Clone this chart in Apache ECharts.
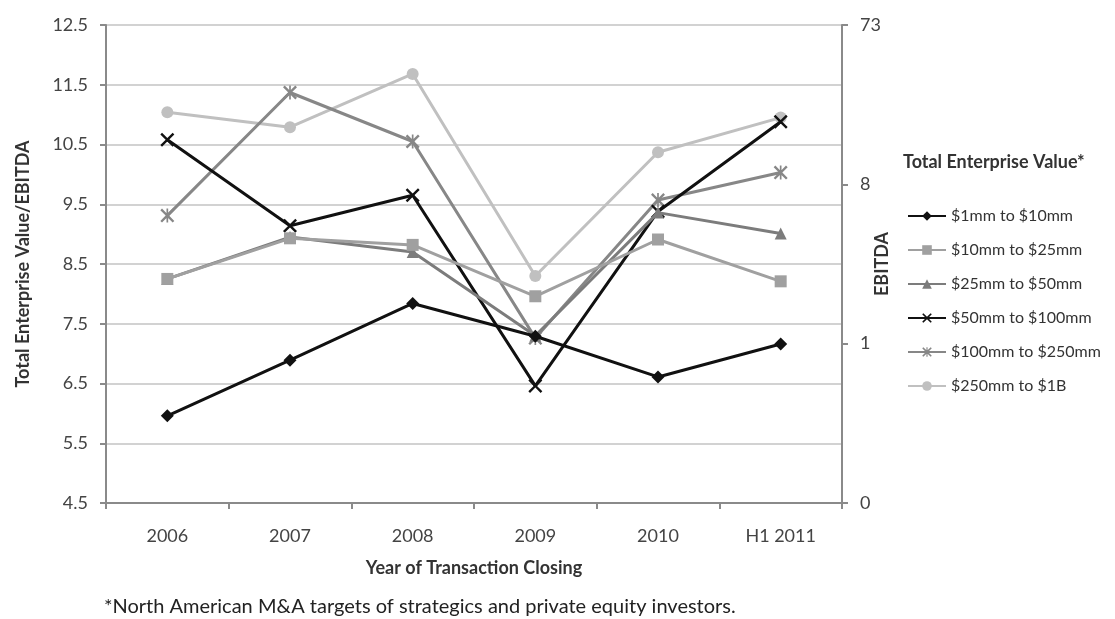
<!DOCTYPE html>
<html>
<head>
<meta charset="utf-8">
<script src="https://cdn.jsdelivr.net/npm/echarts@6/dist/echarts.min.js"></script>
<style>
  html, body { margin: 0; padding: 0; background: #fff; }
  #chart { width: 1115px; height: 619px; }
</style>
</head>
<body>
<div id="chart"></div>
<script>
// Deal-size EV/EBITDA multiples by closing year
const years = ['2006', '2007', '2008', '2009', '2010', 'H1 2011'];
const leftTicks = [4.5, 5.5, 6.5, 7.5, 8.5, 9.5, 10.5, 11.5, 12.5];
const rightTickLabels = ['0', '1', '8', '73'];

const seriesNames = [
  '$1mm to $10mm',
  '$10mm to $25mm',
  '$25mm to $50mm',
  '$50mm to $100mm',
  '$100mm to $250mm',
  '$250mm to $1B'
];
const s1to10    = [5.96, 6.89, 7.84, 7.29, 6.61, 7.16];
const s10to25   = [8.25, 8.93, 8.82, 7.96, 8.91, 8.21];
const s25to50   = [8.25, 8.95, 8.70, 7.30, 9.36, 9.01];
const s50to100  = [10.58, 9.14, 9.65, 6.46, 9.38, 10.88];
const s100to250 = [9.31, 11.37, 10.55, 7.26, 9.57, 10.03];
const s250to1b  = [11.04, 10.79, 11.68, 8.30, 10.37, 10.95];

const xMark = 'path://M0,1.2L1.2,0L5,3.8L8.8,0L10,1.2L6.2,5L10,8.8L8.8,10L5,6.2L1.2,10L0,8.8L3.8,5Z';
const starMark = 'path://M0,1.2L1.2,0L5,3.8L8.8,0L10,1.2L6.2,5L10,8.8L8.8,10L5,6.2L1.2,10L0,8.8L3.8,5Z M4.4,0L5.6,0L5.6,10L4.4,10Z';

const styles = [
  { color: '#111111', symbol: 'diamond', size: 13 },
  { color: '#a0a0a0', symbol: 'rect', size: 12 },
  { color: '#7c7c7c', symbol: 'triangle', size: 12 },
  { color: '#111111', symbol: xMark, size: 14 },
  { color: '#878787', symbol: starMark, size: 14 },
  { color: '#c0c0c0', symbol: 'circle', size: 12 }
];
const values = [s1to10, s10to25, s25to50, s50to100, s100to250, s250to1b];

const font = 'Lato, "Open Sans", sans-serif';
const axisGray = '#8a8a8a';

const chart = echarts.init(document.getElementById('chart'));
chart.setOption({
  animation: false,
  textStyle: { fontFamily: font },
  grid: { left: 106, right: 273, top: 25, bottom: 116 },
  legend: {
    orient: 'vertical',
    left: 902,
    top: 203,
    itemWidth: 38,
    itemHeight: 12,
    itemGap: 18,
    textStyle: { fontSize: 16, color: '#333', fontFamily: font },
    data: seriesNames
  },
  graphic: [
    {
      type: 'text', left: 903, top: 153,
      style: { text: 'Total Enterprise Value*', font: 'bold 18px ' + font, fill: '#333' }
    },
    {
      type: 'text', left: 104, top: 597,
      style: { text: '*North American M&A targets of strategics and private equity investors.', font: '20px ' + font, fill: '#222' }
    }
  ],
  xAxis: {
    type: 'category',
    data: years,
    name: 'Year of Transaction Closing',
    nameLocation: 'middle',
    nameGap: 56,
    nameMoveOverlap: false,
    nameTextStyle: { fontSize: 18, fontWeight: 'bold', color: '#333' },
    axisLine: { lineStyle: { color: axisGray, width: 2 } },
    axisTick: { show: true, length: 6, lineStyle: { color: axisGray, width: 2 } },
    axisLabel: { fontSize: 18, color: '#444', margin: 24 }
  },
  yAxis: [
    {
      type: 'value',
      min: leftTicks[0],
      max: leftTicks[leftTicks.length - 1],
      interval: 1,
      name: 'Total Enterprise Value/EBITDA',
      nameLocation: 'middle',
      nameRotate: 90,
      nameGap: 74,
      nameMoveOverlap: false,
      nameTextStyle: { fontSize: 18, fontWeight: 'bold', color: '#333' },
      axisLine: { show: true, lineStyle: { color: axisGray, width: 2 } },
      axisTick: { show: true, length: 6, lineStyle: { color: axisGray, width: 2 } },
      axisLabel: { fontSize: 18, color: '#444', margin: 18, formatter: v => v.toFixed(1) },
      splitLine: { lineStyle: { color: '#d2d2d2', width: 2 } }
    },
    {
      type: 'value',
      position: 'right',
      min: 0,
      max: rightTickLabels.length - 1,
      interval: 1,
      name: 'EBITDA',
      nameLocation: 'middle',
      nameRotate: 90,
      nameGap: 31,
      nameMoveOverlap: false,
      nameTextStyle: { fontSize: 18, fontWeight: 'bold', color: '#333' },
      axisLine: { show: true, lineStyle: { color: axisGray, width: 2 } },
      axisTick: { show: true, length: 6, lineStyle: { color: axisGray, width: 2 } },
      axisLabel: { fontSize: 18, color: '#444', margin: 18, formatter: v => rightTickLabels[Math.round(v)] },
      splitLine: { show: false }
    }
  ],
  series: seriesNames.map((name, i) => ({
    name,
    type: 'line',
    yAxisIndex: 0,
    data: values[i],
    symbol: styles[i].symbol,
    symbolSize: styles[i].size,
    showAllSymbol: true,
    lineStyle: { color: styles[i].color, width: 3 },
    itemStyle: { color: styles[i].color },
    z: 10 - i
  }))
});
</script>
</body>
</html>
